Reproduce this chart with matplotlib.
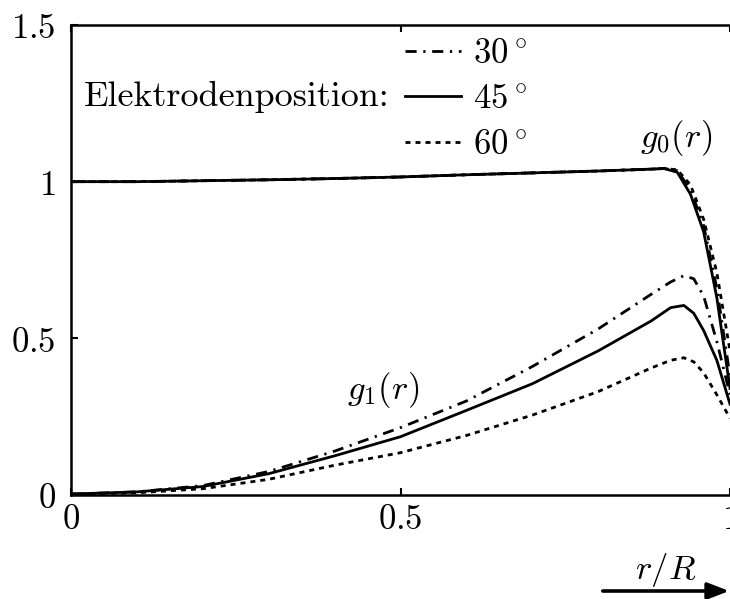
import matplotlib
matplotlib.use('Agg')
import matplotlib.pyplot as plt

plt.rcParams['mathtext.fontset'] = 'cm'

# radial position r/R
x_g1 = [0, 0.1, 0.2, 0.3, 0.4, 0.5, 0.6, 0.7, 0.8, 0.88, 0.91, 0.93, 0.945, 0.96, 0.98, 1.0]
g1_30 = [0.003, 0.01, 0.03, 0.075, 0.14, 0.215, 0.30, 0.41, 0.53, 0.64, 0.68, 0.70, 0.69, 0.635, 0.49, 0.32]
g1_45 = [0.003, 0.01, 0.027, 0.068, 0.125, 0.186, 0.27, 0.355, 0.46, 0.555, 0.598, 0.605, 0.58, 0.525, 0.43, 0.29]
g1_60 = [0.003, 0.007, 0.02, 0.05, 0.095, 0.135, 0.19, 0.255, 0.33, 0.405, 0.43, 0.438, 0.425, 0.39, 0.32, 0.245]

x_g0 = [0, 0.1, 0.2, 0.3, 0.4, 0.5, 0.6, 0.7, 0.8, 0.88, 0.9, 0.92, 0.94, 0.96, 0.98, 1.0]
g0_30 = [1.0, 1.0, 1.003, 1.006, 1.01, 1.015, 1.022, 1.028, 1.034, 1.04, 1.042, 1.035, 0.975, 0.86, 0.66, 0.38]
g0_45 = [1.0, 1.0, 1.003, 1.006, 1.01, 1.015, 1.022, 1.028, 1.034, 1.04, 1.042, 1.03, 0.96, 0.84, 0.63, 0.34]
g0_60 = [1.0, 1.0, 1.003, 1.006, 1.01, 1.015, 1.022, 1.028, 1.034, 1.04, 1.042, 1.038, 0.99, 0.88, 0.71, 0.46]

labels = [r'$30\,^{\circ}$', r'$45\,^{\circ}$', r'$60\,^{\circ}$']
styles = [(0, (4.0, 2.4, 0.8, 2.4)), '-', (0, (1.8, 1.8))]

FS = 25

fig = plt.figure(figsize=(7.3, 5.99), dpi=100)
ax = fig.add_axes([71 / 730, 1 - 495 / 599, 659 / 730, 470 / 599])

lw = 2.0
series_g0 = [g0_30, g0_45, g0_60]
series_g1 = [g1_30, g1_45, g1_60]
handles = []
for g0, g1, ls, lab in zip(series_g0, series_g1, styles, labels):
    h, = ax.plot(x_g0, g0, color='black', lw=lw, linestyle=ls, label=lab)
    ax.plot(x_g1, g1, color='black', lw=lw, linestyle=ls)
    handles.append(h)

ax.set_xlim(0, 1)
ax.set_ylim(0, 1.5)
ax.set_xticks([0, 0.5, 1])
ax.set_xticklabels(['$0$', '$0.5$', '$1$'])
ax.set_yticks([0, 0.5, 1, 1.5])
ax.set_yticklabels(['$0$', '$0.5$', '$1$', '$1.5$'])
ax.tick_params(direction='in', top=True, right=False, length=5, width=1.5,
               labelsize=FS)
ax.tick_params(axis='x', pad=5)
ax.tick_params(axis='y', pad=11)
for s in ['left', 'bottom', 'top']:
    ax.spines[s].set_linewidth(1.8)
ax.spines['right'].set_visible(False)

leg = ax.legend(handles=handles, loc='upper left', frameon=False,
                bbox_to_anchor=(405 / 730, 1 - 36 / 599),
                bbox_transform=fig.transFigure, fontsize=FS,
                handlelength=1.6, handletextpad=0.35, labelspacing=0.33,
                borderpad=0.0, borderaxespad=0)

fig.text(84 / 730, 1 - 97 / 599, 'Elektrodenposition:', fontfamily='cmr10',
         fontsize=26, ha='left', va='center')
ax.text(0.918, 1.14, r'$g_0(r)$', fontsize=FS, ha='center', va='center')
ax.text(0.473, 0.335, r'$g_1(r)$', fontsize=FS, ha='center', va='center')

fig.text(666 / 730, 1 - 570 / 599, r'$r/R$', fontsize=FS, ha='center', va='center')
ax.annotate('', xy=(732 / 730, 1 - 591 / 599), xytext=(600 / 730, 1 - 591 / 599),
            xycoords='figure fraction', textcoords='figure fraction',
            arrowprops=dict(arrowstyle='-|>,head_length=1.3,head_width=0.5',
                            color='black', lw=2.6),
            annotation_clip=False)

fig.savefig('out.png', dpi=100)
